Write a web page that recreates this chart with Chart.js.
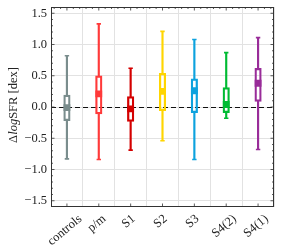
<!DOCTYPE html>
<html><head><meta charset="utf-8">
<script src="https://cdn.jsdelivr.net/npm/chart.js@4"></script>
<style>html,body{margin:0;padding:0;background:#fff;overflow:hidden}</style>
</head><body>
<div style="width:281px;height:250px;position:relative"><canvas id="c"></canvas></div>
<script>
const categories = ['controls','p/m','S1','S2','S3','S4(2)','S4(1)'];
const whiskerLow  = [-0.83,-0.84,-0.69,-0.54,-0.84,-0.18,-0.68];
const boxLow      = [-0.22,-0.11,-0.23,-0.06,-0.09,-0.09, 0.09];
const medians     = [-0.01, 0.21,-0.03, 0.25, 0.26, 0.04, 0.38];
const boxHigh     = [ 0.19, 0.50, 0.165,0.54, 0.45, 0.31, 0.62];
const whiskerHigh = [ 0.82, 1.33, 0.62, 1.21, 1.08, 0.87, 1.11];
const colors = ['#7a8d8d','#ff3a3a','#d40000','#ffd500','#0da2de','#00bb33','#992c99'];
const yTicks = [-1.5,-1.0,-0.5,0.0,0.5,1.0,1.5];
const yMin = -1.6, yMax = 1.6;

const SERIF = '"Liberation Serif", "DejaVu Serif", serif';
const TXT = '#222';
const FRAME = '#333';

const lowerWhisker = categories.map((c,i)=>[whiskerLow[i], boxLow[i]]);
const upperWhisker = categories.map((c,i)=>[boxHigh[i], whiskerHigh[i]]);
const boxes = categories.map((c,i)=>[boxLow[i], boxHigh[i]]);

const deco = {
  id:'deco',
  beforeDatasetsDraw(chart){
    const {ctx, chartArea:a, scales:{y}} = chart;
    const py = Math.round(y.getPixelForValue(0))+0.5;
    ctx.save();
    ctx.strokeStyle='#111'; ctx.lineWidth=1.2; ctx.setLineDash([5,3]);
    ctx.beginPath(); ctx.moveTo(a.left,py); ctx.lineTo(a.right,py); ctx.stroke();
    ctx.restore();
  },
  afterDraw(chart){
    const {ctx, chartArea:a, scales:{x,y}} = chart;
    ctx.save();
    ctx.strokeStyle=FRAME; ctx.lineWidth=1;
    ctx.strokeRect(a.left+0.5, a.top+0.5, a.right-a.left-1, a.bottom-a.top-1);
    ctx.lineWidth=0.8;
    ctx.beginPath();
    for(let k=Math.round(yMin*10); k<=Math.round(yMax*10); k++){
      const v=k/10; const py=y.getPixelForValue(v);
      if(py<a.top+1||py>a.bottom-1) continue;
      const major = (k%5===0);
      const L = major?3.5:2;
      ctx.moveTo(a.left,py); ctx.lineTo(a.left+L,py);
      ctx.moveTo(a.right,py); ctx.lineTo(a.right-L,py);
    }
    const step = x.getPixelForValue(1)-x.getPixelForValue(0);
    for(let k=-2;k<=categories.length*5+2;k++){
      const px = x.getPixelForValue(0)+step*k/5;
      if(px<a.left+1||px>a.right-1) continue;
      const major = (k%5===0);
      if(major){
        ctx.moveTo(px,a.bottom); ctx.lineTo(px,a.bottom-3.5);
        ctx.moveTo(px,a.top); ctx.lineTo(px,a.top+3.5);
      } else {
        ctx.moveTo(px,a.top); ctx.lineTo(px,a.top+2);
      }
    }
    ctx.stroke();
    ctx.fillStyle=TXT;
    ctx.font='12.5px '+SERIF;
    ctx.textAlign='center'; ctx.textBaseline='middle';
    const ang = 40*Math.PI/180;
    categories.forEach((c,i)=>{
      const w = ctx.measureText(c).width, h=10;
      const bh = w*Math.sin(ang)+h*Math.cos(ang);
      const cx = x.getPixelForValue(i)-2;
      const cy = a.bottom+6.5+bh/2;
      ctx.save(); ctx.translate(cx,cy); ctx.rotate(-ang); ctx.fillText(c,0,0); ctx.restore();
    });
    const parts=[['Δ','12.5px '+SERIF],['log','italic 12.5px '+SERIF],['SFR [dex]','12.5px '+SERIF]];
    let tot=0; parts.forEach(p=>{ctx.font=p[1]; tot+=ctx.measureText(p[0]).width;});
    ctx.save(); ctx.translate(14,(a.top+a.bottom)/2-2); ctx.rotate(-Math.PI/2);
    ctx.textAlign='left'; ctx.textBaseline='middle';
    let xx=-tot/2;
    parts.forEach(p=>{ctx.font=p[1]; ctx.fillText(p[0],xx,0); xx+=ctx.measureText(p[0]).width;});
    ctx.restore();
    ctx.restore();
  }
};

new Chart(document.getElementById('c'), {
  type:'bar',
  data:{
    labels:categories,
    datasets:[
      {type:'bar', data:lowerWhisker, backgroundColor:colors, borderWidth:0, barThickness:1.5, grouped:false, order:5},
      {type:'bar', data:upperWhisker, backgroundColor:colors, borderWidth:0, barThickness:1.5, grouped:false, order:5},
      {type:'bar', data:boxes, backgroundColor:'rgba(255,255,255,0)', borderColor:colors, borderWidth:1.6, borderSkipped:false, barThickness:6.5, grouped:false, order:4},
      {type:'line', data:whiskerLow, showLine:false, pointStyle:'line', pointRadius:2.2, pointBorderWidth:1.6, pointBorderColor:colors, order:3},
      {type:'line', data:whiskerHigh, showLine:false, pointStyle:'line', pointRadius:2.2, pointBorderWidth:1.6, pointBorderColor:colors, order:3},
      {type:'line', data:medians, showLine:false, pointStyle:'rect', pointRadius:4.8, pointBorderWidth:0, pointBackgroundColor:colors, pointBorderColor:colors, order:1}
    ]
  },
  options:{
    responsive:true, maintainAspectRatio:false, animation:false,
    events:[],
    layout:{padding:{top:7,right:7,left:0,bottom:0}},
    plugins:{legend:{display:false}, tooltip:{enabled:false}},
    scales:{
      x:{type:'category', offset:true,
         grid:{color:'#e2e2e2', drawTicks:false, lineWidth:1},
         border:{display:false},
         ticks:{display:false},
         afterFit(s){ s.height=43; s.paddingLeft=0; s.paddingRight=0; }},
      y:{type:'linear', min:yMin, max:yMax,
         grid:{color:'#e2e2e2', drawTicks:false, lineWidth:1},
         border:{display:false},
         afterBuildTicks(s){ s.ticks = yTicks.map(v=>({value:v})); },
         ticks:{color:TXT, font:{family:SERIF, size:12.5}, padding:4,
                callback:(v)=>Number(v).toFixed(1).replace('-','\u2212')},
         afterFit(s){ s.width=51; s.paddingTop=0; s.paddingBottom=0; }}
    }
  },
  plugins:[deco]
});
</script>
</body></html>
